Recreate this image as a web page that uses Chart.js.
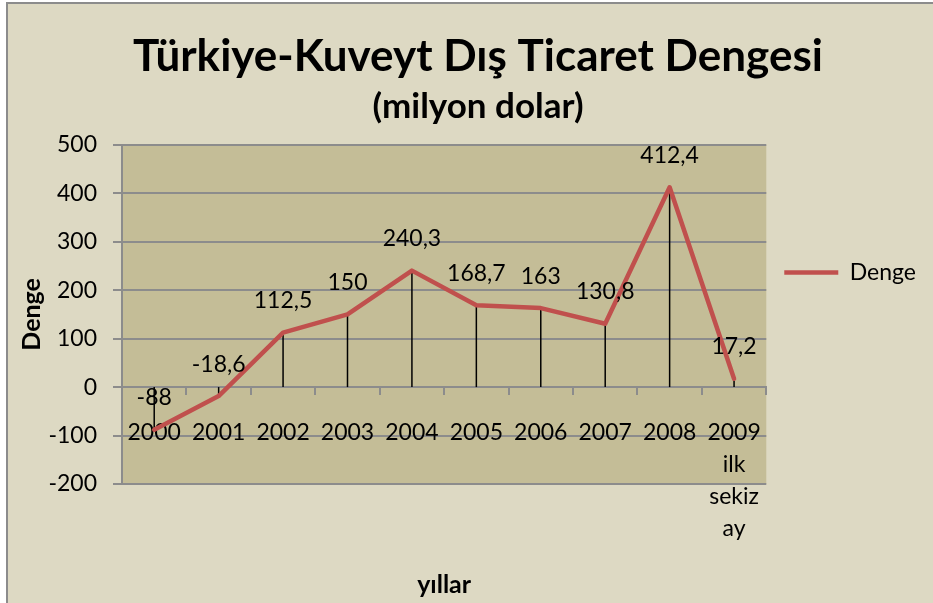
<!DOCTYPE html>
<html>
<head>
<meta charset="utf-8">
<script src="https://cdn.jsdelivr.net/npm/chart.js@4.4.0/dist/chart.umd.min.js"></script>
<style>
  body{margin:0;background:#fff;overflow:hidden;}
  #chart{position:absolute;left:6px;top:2px;width:950px;height:620px;border-left:2px solid #8c8c8c;border-top:2px solid #8c8c8c;background:#ddd9c3;overflow:hidden;}
</style>
</head>
<body>
<div id="chart"><canvas id="myChart" width="938" height="599"></canvas></div>
<script>
// datos de la grafica
var years = ['2000','2001','2002','2003','2004','2005','2006','2007','2008',['2009','ilk','sekiz','ay']];
var denge = [-88, -18.6, 112.5, 150, 240.3, 168.7, 163, 130.8, 412.4, 17.2];
var yMin = -200, yMax = 500, yStep = 100;

var gris = '#8c8c8c';
var fuente = 'Lato';

/*
* Plugin: pinta el fondo del area de la grafica
*/
var fondo = {
  id: 'fondo',
  beforeDraw: function(chart){
    var a = chart.chartArea, ctx = chart.ctx;
    ctx.save();
    ctx.fillStyle = '#c4bd97';
    ctx.fillRect(a.left, a.top, a.right - a.left, a.bottom - a.top);
    ctx.restore();
  }
};

/*
* Plugin: lineas verticales desde cada punto hasta el cero
*/
var lineasCaida = {
  id: 'lineasCaida',
  beforeDatasetsDraw: function(chart){
    var ctx = chart.ctx;
    var cero = chart.scales.y.getPixelForValue(0);
    ctx.save();
    ctx.strokeStyle = '#000';
    ctx.lineWidth = 1.5;
    chart.getDatasetMeta(0).data.forEach(function(p){
      ctx.beginPath();
      ctx.moveTo(p.x, p.y);
      ctx.lineTo(p.x, cero);
      ctx.stroke();
    });
    ctx.restore();
  }
};

/*
* Plugin: etiquetas con el valor encima de cada punto
*/
var etiquetas = {
  id: 'etiquetas',
  afterDatasetsDraw: function(chart){
    var ctx = chart.ctx;
    ctx.save();
    ctx.font = '23px ' + fuente;
    ctx.fillStyle = '#000';
    ctx.textAlign = 'center';
    ctx.textBaseline = 'middle';
    chart.getDatasetMeta(0).data.forEach(function(p, i){
      ctx.fillText(String(denge[i]).replace('.', ','), p.x, p.y - 32);
    });
    ctx.restore();
  }
};

function showchart(){
  var ctx = document.getElementById('myChart');
  new Chart(ctx, {
    type: 'line',
    data: {
      labels: years,
      datasets: [{
        label: 'Denge',
        data: denge,
        borderColor: '#c0504d',
        backgroundColor: '#c0504d',
        borderWidth: 4.5,
        borderCapStyle: 'round',
        borderJoinStyle: 'round',
        pointRadius: 0,
        tension: 0,
        fill: false
      }]
    },
    options: {
      responsive: false,
      animation: false,
      layout: {padding: {top: 0, left: 22, right: 20, bottom: 119}},
      plugins: {
        tooltip: {enabled: false},
        title: {
          display: true,
          text: 'Türkiye-Kuveyt Dış Ticaret Dengesi',
          color: '#000',
          font: {family: fuente, size: 44, weight: 'bold'},
          padding: {top: 26, bottom: 0}
        },
        subtitle: {
          display: true,
          text: '(milyon dolar)',
          color: '#000',
          font: {family: fuente, size: 35, weight: 'bold'},
          padding: {top: 3, bottom: 17}
        },
        legend: {
          position: 'right',
          align: 'start',
          title: {display: true, text: '', font: {size: 10}, padding: {top: 227, bottom: 0}},
          labels: {
            usePointStyle: true,
            pointStyle: 'line',
            pointStyleWidth: 54,
            boxWidth: 54,
            padding: 18,
            color: '#000',
            font: {family: fuente, size: 23}
          }
        }
      },
      scales: {
        x: {
          position: {y: 0},
          offset: true,
          grid: {drawOnChartArea: false, drawTicks: true, tickLength: 7, color: gris, lineWidth: 2, offset: true},
          border: {display: true, color: gris, width: 2},
          ticks: {color: '#000', font: {family: fuente, size: 23, lineHeight: '32px'}, padding: 22, maxRotation: 0, autoSkip: false},
          title: {display: true, text: 'yıllar', color: '#000', font: {family: fuente, size: 25, weight: 'bold'}, padding: {top: 0, bottom: 4}},
          afterFit: function(s){ s.height = 217; }
        },
        y: {
          min: yMin,
          max: yMax,
          ticks: {stepSize: yStep, color: '#000', font: {family: fuente, size: 23}, padding: 16},
          grid: {color: gris, lineWidth: 2, tickLength: 9},
          border: {color: gris, width: 2},
          title: {display: true, text: 'Denge', color: '#000', font: {family: fuente, size: 25, weight: 'bold'}, padding: {top: -13, bottom: 0}},
          afterFit: function(s){ s.width = 92; }
        }
      }
    },
    plugins: [fondo, lineasCaida, etiquetas]
  });
}

showchart();
</script>
</body>
</html>
